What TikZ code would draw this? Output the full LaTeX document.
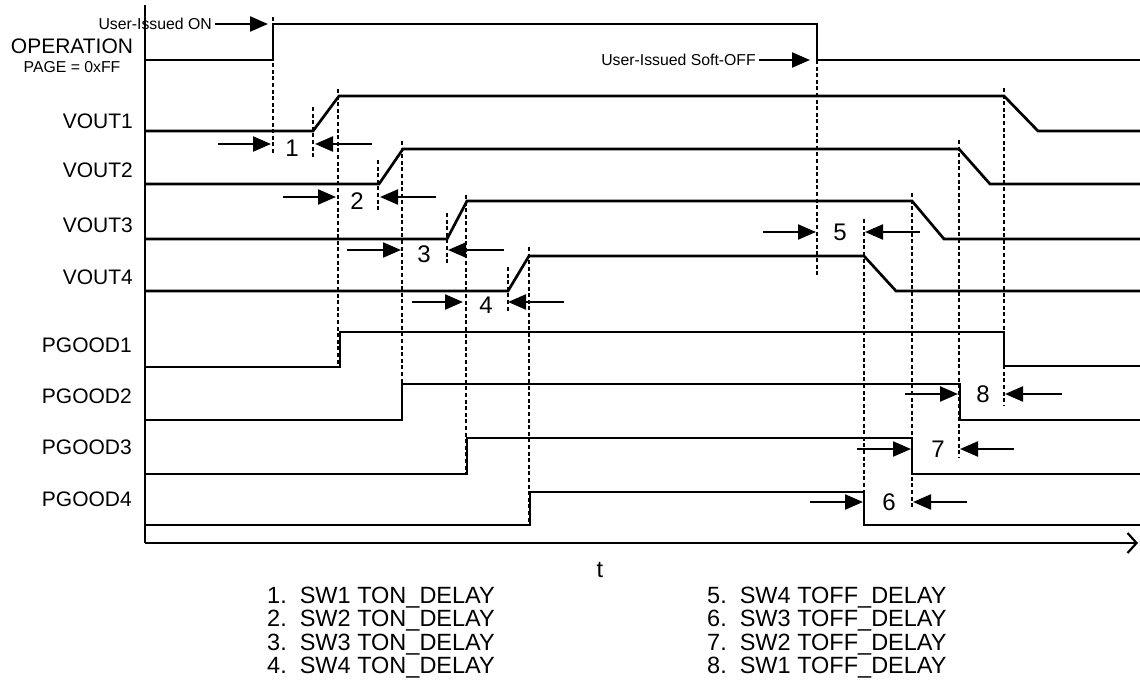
\documentclass[tikz,border=0pt]{standalone}
\usepackage{fontspec}
\setmainfont{Liberation Sans}
\usetikzlibrary{arrows.meta}
\begin{document}
\begin{tikzpicture}[x=1pt,y=-1pt,
  wave/.style={line width=2.7pt, line join=miter},
  guide/.style={line width=2.1pt, dash pattern=on 4pt off 2.6pt},
  dly/.style={line width=2.2pt, -{Triangle[length=18pt,width=15pt]}},
  lbl/.style={font=\fontsize{21}{25}\selectfont, anchor=base east, inner sep=0pt},
  num/.style={font=\fontsize{24}{28}\selectfont, inner sep=0pt},
  small/.style={font=\fontsize{15.8}{19}\selectfont, inner sep=0pt},
  leg/.style={font=\fontsize{23.5}{28}\selectfont, anchor=base west, inner sep=0pt}]
\useasboundingbox (0,0) rectangle (1140,693);

% axes
\coordinate (axtop) at (145,5);
\coordinate (axo) at (145,543);
\coordinate (axend) at (1138,543);
\draw[line width=2.6pt] (axtop) -- (axo);
\draw[line width=2.4pt, -{Straight Barb[length=9pt,width=20pt,line width=2.2pt]}] (axo) -- (axend);

% waveforms
\draw[wave] (145,60) -- (273,60) -- (273,24) -- (817,24) -- (817,60) -- (1140,60);
\draw[wave] (145,131) -- (313,131) -- (339,96) -- (1004,96) -- (1038,131) -- (1140,131);
\draw[wave] (145,184) -- (379,184) -- (403,149) -- (959,149) -- (990,184) -- (1140,184);
\draw[wave] (145,239) -- (447,239) -- (467,201) -- (912,201) -- (944,239) -- (1140,239);
\draw[wave] (145,291) -- (508,291) -- (529,256) -- (864,256) -- (896,291) -- (1140,291);
\draw[wave] (145,367) -- (340,367) -- (340,332) -- (1004,332) -- (1004,366) -- (1140,366);
\draw[wave] (145,420) -- (402,420) -- (402,384) -- (960,384) -- (960,420) -- (1140,420);
\draw[wave] (145,474) -- (467,474) -- (467,438) -- (912,438) -- (912,474) -- (1140,474);
\draw[wave] (145,525) -- (530,525) -- (530,492) -- (864,492) -- (864,525) -- (1140,525);

% guide lines
\draw[guide] (273,17) -- (273,155);
\draw[guide] (313,107) -- (313,157);
\draw[guide] (338,89) -- (338,366);
\draw[guide] (378,160) -- (378,210);
\draw[guide] (402,141) -- (402,420);
\draw[guide] (447,213) -- (447,263);
\draw[guide] (466,195) -- (466,474);
\draw[guide] (508,267) -- (508,312);
\draw[guide] (529,247) -- (529,525);
\draw[guide] (817,60) -- (817,275);
\draw[guide] (864,219) -- (864,492);
\draw[guide] (912,193) -- (912,508);
\draw[guide] (959,140) -- (959,457);
\draw[guide] (1004,88) -- (1004,405);

% delay markers
\draw[dly] (218,144) -- (271,144);
\node[num] (n1) at (292,148) {1};
\draw[dly] (372,144) -- (315,144);

\draw[dly] (283,197) -- (336,197);
\node[num] (n2) at (357,201) {2};
\draw[dly] (436,197) -- (380,197);

\draw[dly] (347,250) -- (401,250);
\node[num] (n3) at (424,254) {3};
\draw[dly] (504,250) -- (448,250);

\draw[dly] (412,302) -- (463,302);
\node[num] (n4) at (486,305) {4};
\draw[dly] (564,302) -- (508,302);

\draw[dly] (763,232) -- (816,232);
\node[num] (n5) at (840,232) {5};
\draw[dly] (920,232) -- (865,232);

\draw[dly] (810,502) -- (863,502);
\node[num] (n6) at (889,502) {6};
\draw[dly] (967,502) -- (913,502);

\draw[dly] (857,449) -- (911,449);
\node[num] (n7) at (938,449) {7};
\draw[dly] (1014,449) -- (960,449);

\draw[dly] (905,394) -- (958,394);
\node[num] (n8) at (983,394) {8};
\draw[dly] (1062,394) -- (1005,394);

% user commands
\node[small, anchor=east] (on) at (212,24) {User-Issued ON};
\coordinate (ontip) at (268,24);
\draw[dly] (on.east) ++(3,0) -- (ontip);
\node[small, anchor=east] (off) at (756,60) {User-Issued Soft-OFF};
\coordinate (offtip) at (810,60);
\draw[dly] (off.east) ++(3,0) -- (offtip);

% signal labels
\node[lbl, font=\fontsize{21}{25}\selectfont, anchor=base] (op) at (72,53) {OPERATION};
\node[small, anchor=base] (page) at (72,73) {PAGE = 0xFF};
\node[lbl] (v1) at (133,128) {VOUT1};
\node[lbl] (v2) at (133,177) {VOUT2};
\node[lbl] (v3) at (133,232) {VOUT3};
\node[lbl] (v4) at (133,284) {VOUT4};
\node[lbl] (p1) at (132,352) {PGOOD1};
\node[lbl] (p2) at (132,403) {PGOOD2};
\node[lbl] (p3) at (132,454) {PGOOD3};
\node[lbl] (p4) at (132,506) {PGOOD4};

\node[leg, anchor=base] (t) at (600,577) {t};

% legend
\node[leg] (l1) at (267,603) {1.\hspace{13pt}SW1 TON\_DELAY};
\node[leg] (l2) at (267,626.5) {2.\hspace{13pt}SW2 TON\_DELAY};
\node[leg] (l3) at (267,650) {3.\hspace{13pt}SW3 TON\_DELAY};
\node[leg] (l4) at (267,673.5) {4.\hspace{13pt}SW4 TON\_DELAY};
\node[leg] (l5) at (707,603) {5.\hspace{13pt}SW4 TOFF\_DELAY};
\node[leg] (l6) at (707,626.5) {6.\hspace{13pt}SW3 TOFF\_DELAY};
\node[leg] (l7) at (707,650) {7.\hspace{13pt}SW2 TOFF\_DELAY};
\node[leg] (l8) at (707,673.5) {8.\hspace{13pt}SW1 TOFF\_DELAY};
\end{tikzpicture}
\end{document}
